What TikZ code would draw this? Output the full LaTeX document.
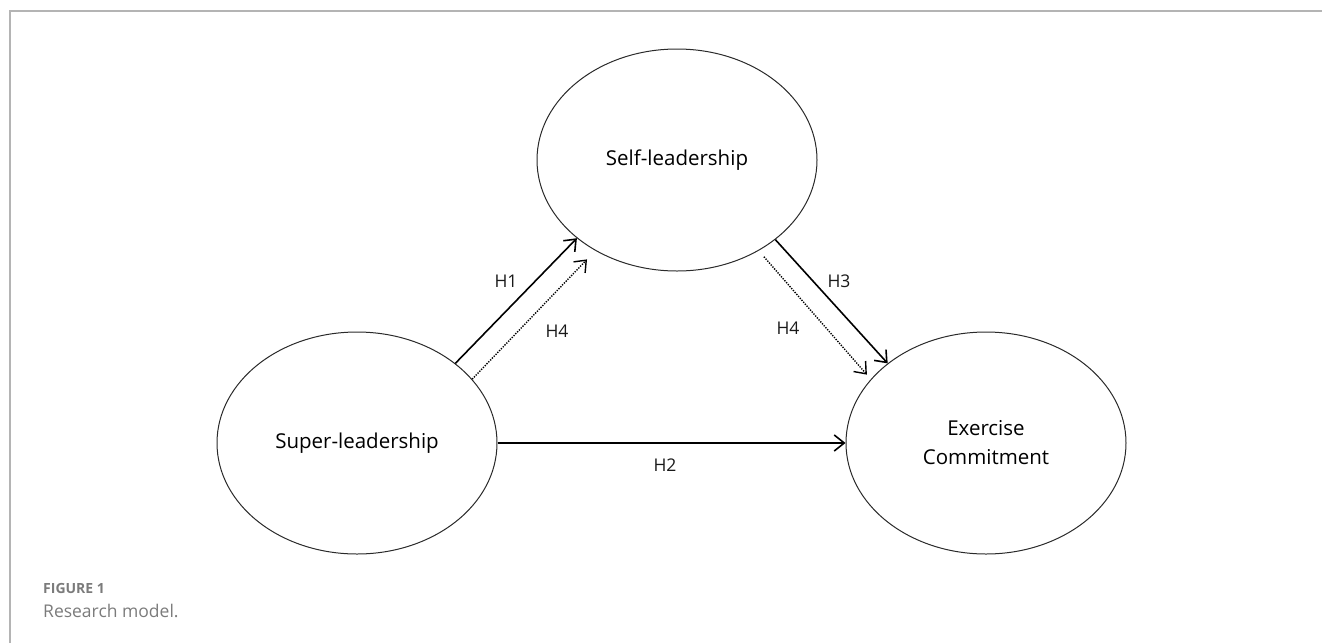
\documentclass[tikz,border=0pt]{standalone}
\usepackage{fontspec}
\setmainfont{Open Sans}
\usetikzlibrary{arrows.meta,shapes.geometric}
\definecolor{framegray}{HTML}{B4B4B4}
\definecolor{captiongray}{HTML}{7B7B7B}
\definecolor{outline}{HTML}{2A2A2A}
\begin{document}
\begin{tikzpicture}[x=1pt,y=-1pt,
  construct/.style={draw=outline, line width=1pt, ellipse,
    minimum width=280pt, minimum height=222pt, inner sep=0pt,
    align=center, font=\fontsize{20.5}{29}\selectfont},
  tip/.style={-{Straight Barb[length=10pt,width=16pt]}},
  effect/.style={tip, draw=black, line width=1.6pt},
  indirect/.style={tip, draw=black, line width=1.4pt, dash pattern=on 1.3pt off 1.3pt},
  hyp/.style={inner sep=0pt, font=\fontsize{17.5}{20}\selectfont, text=black!90},
  caption/.style={inner sep=0pt, anchor=base west, text=captiongray}
]
\useasboundingbox (0,0) rectangle (1322,643);

% page frame (top and left rules)
\draw[framegray, line width=2pt] (9.5,643) -- (9.5,11) -- (1322,11);

% constructs
\node[construct] (self)  at (677,160) {Self-leadership};
\node[construct] (super) at (357,443) {Super-leadership};
\node[construct] (commit) at (986,443) {Exercise\\Commitment};

% direct effects
\draw[effect] (super.39.2) -- (self.218.3);
\draw[effect] (self.-39.2) -- (commit.141.3);
\draw[effect] (super.east) -- (commit.west);

% mediated paths
\draw[indirect, shorten >=12pt] (super.29.6) -- (self.228);
\draw[indirect, shorten <=8pt, shorten >=6pt] (self.-48.7) -- (commit.151.4);

% hypothesis labels
\node[hyp] (h1)  at (506,281) {H1};
\node[hyp] (h4a) at (557,331) {H4};
\node[hyp] (h3)  at (839,281) {H3};
\node[hyp] (h4b) at (788,328) {H4};
\node[hyp] (h2)  at (665,465) {H2};

% figure caption
\node[caption, font=\bfseries\fontsize{14}{16}\selectfont] (fig) at (43,593) {FIGURE 1};
\node[caption, font=\fontsize{17.5}{20}\selectfont] (cap) at (43,617) {Research model.};
\end{tikzpicture}
\end{document}
